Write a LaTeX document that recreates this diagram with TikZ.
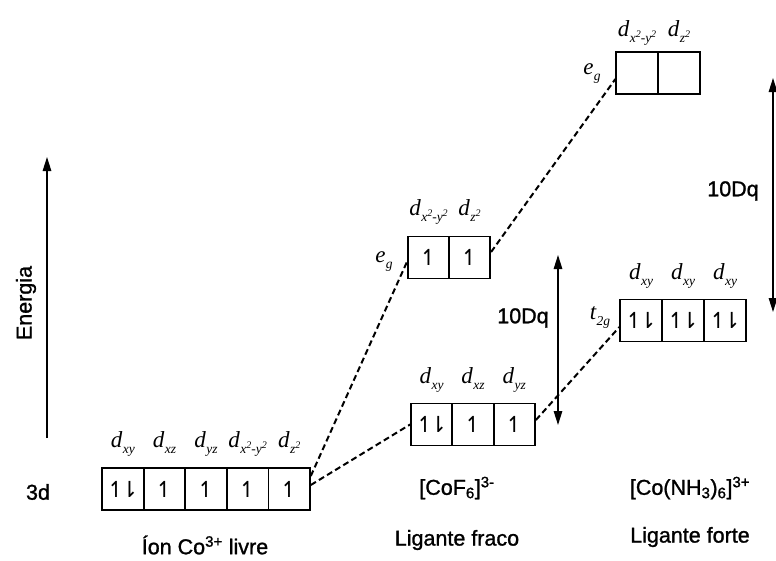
\documentclass[tikz,border=0pt]{standalone}
\usepackage{fontspec}
\setmainfont{Liberation Sans}[FakeBold=1.2]
\newfontfamily\arrowfont{DejaVu Sans}
\newfontfamily\serifit{Liberation Serif Italic}
\usetikzlibrary{arrows.meta,calc}
\newcommand{\up}{{\arrowfont ↿}}
\newcommand{\pair}{{\arrowfont ↿\kern-5pt⇂}}
\newcommand{\orbl}[2]{{\serifit #1\kern0.5pt\raisebox{-6pt}{\fontsize{13.5}{13.5}\selectfont #2}}}
\newcommand{\sq}{\raisebox{5pt}{\fontsize{10}{10}\selectfont 2}}
\begin{document}
\begin{tikzpicture}[x=1pt,y=-1pt,
  cell/.style={draw, line width=1.7pt, minimum width=41.5pt, minimum height=42pt, inner sep=0pt, font=\fontsize{22}{22}\selectfont},
  orb/.style={anchor=base, inner sep=0pt, font=\fontsize{23}{23}\selectfont},
  lbl/.style={inner sep=0pt, font=\fontsize{21.5}{24}\selectfont},
  conn/.style={line width=2pt, dash pattern=on 6pt off 3.5pt},
  dbl/.style={{Triangle[length=14pt,width=8.5pt]}-{Triangle[length=14pt,width=8.5pt]}, line width=1.4pt},
  single/.style={-{Triangle[length=14pt,width=8.5pt]}, line width=1.4pt}]
\useasboundingbox (0,0) rectangle (776,560);

% energy axis
\coordinate (eb) at (47,438);
\coordinate (et) at (47,157);
\draw[single] (eb) -- (et);
\node[lbl, rotate=90] (energia) at (26,303) {Energia};
\node[lbl] (tresd) at (38,492) {3d};

% free ion
\node[cell] (f1) at (122.8,489) {\pair};
\node[cell] (f2) at (164.4,489) {\up};
\node[cell] (f3) at (206,489) {\up};
\node[cell] (f4) at (247.6,489) {\up};
\node[cell] (f5) at (289.2,489) {\up};
\node[orb] (lf1) at (122.8,447) {\orbl{d}{xy}};
\node[orb] (lf2) at (164.4,447) {\orbl{d}{xz}};
\node[orb] (lf3) at (206,447) {\orbl{d}{yz}};
\node[orb] (lf4) at (247.6,447) {\orbl{d}{x\sq-y\sq}};
\node[orb] (lf5) at (289.2,447) {\orbl{d}{z\sq}};
\node[lbl] (tf) at (205,545) {Íon Co\textsuperscript{3+} livre};

% CoF6
\node[cell] (ct1) at (431.7,424.5) {\pair};
\node[cell] (ct2) at (473,424.5) {\up};
\node[cell] (ct3) at (514.3,424.5) {\up};
\node[orb] (lct1) at (431.7,383) {\orbl{d}{xy}};
\node[orb] (lct2) at (473,383) {\orbl{d}{xz}};
\node[orb] (lct3) at (514.3,383) {\orbl{d}{yz}};
\node[cell] (ce1) at (428.5,257.5) {\up};
\node[cell] (ce2) at (469.5,257.5) {\up};
\node[orb] (lce1) at (428.5,215) {\orbl{d}{x\sq-y\sq}};
\node[orb] (lce2) at (469.5,215) {\orbl{d}{z\sq}};
\node[orb] (egf) at (384,262) {\orbl{e}{g}};
\node[lbl] (cof) at (457,488) {[CoF\textsubscript{6}]\textsuperscript{3-}};
\node[lbl] (fraco) at (457,540) {Ligante fraco};
\coordinate (da1) at (558,255);
\coordinate (da2) at (558,425);
\draw[dbl] (da1) -- (da2);
\node[lbl] (dqf) at (523,318) {10Dq};

% Co(NH3)6
\node[cell] (nt1) at (641,320.5) {\pair};
\node[cell] (nt2) at (683,320.5) {\pair};
\node[cell] (nt3) at (725,320.5) {\pair};
\node[orb] (lnt1) at (641,279) {\orbl{d}{xy}};
\node[orb] (lnt2) at (683,279) {\orbl{d}{xy}};
\node[orb] (lnt3) at (725,279) {\orbl{d}{xy}};
\node[orb] (t2g) at (600,319) {\orbl{t}{2g}};
\node[cell] (ne1) at (637,73) {};
\node[cell] (ne2) at (679,73) {};
\node[orb] (lne1) at (637,36) {\orbl{d}{x\sq-y\sq}};
\node[orb] (lne2) at (679,36) {\orbl{d}{z\sq}};
\node[orb] (egn) at (592,74) {\orbl{e}{g}};
\node[lbl] (conh) at (690,488) {[Co(NH\textsubscript{3})\textsubscript{6}]\textsuperscript{3+}};
\node[lbl] (forte) at (690,537) {Ligante forte};
\coordinate (db1) at (773,78);
\coordinate (db2) at (773,312);
\draw[dbl] (db1) -- (db2);
\node[lbl] (dqn) at (733,191) {10Dq};

% dashed correlation lines
\draw[conn] ([yshift=13pt]f5.east) -- ([yshift=-4.5pt]ce1.west);
\draw[conn] ([yshift=4pt]f5.east) -- (ct1.west);
\draw[conn] ([yshift=5.5pt]ce2.east) -- ([yshift=-6pt]ne1.west);
\draw[conn] ([yshift=4.5pt]ct3.east) -- ([yshift=-6.5pt]nt1.west);
\end{tikzpicture}
\end{document}
